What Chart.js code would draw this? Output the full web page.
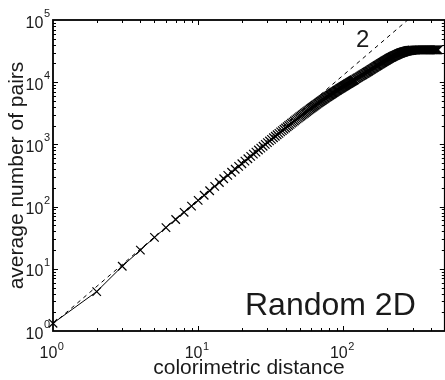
<!DOCTYPE html>
<html>
<head>
<meta charset="utf-8">
<script src="https://cdn.jsdelivr.net/npm/chart.js@4"></script>
<style>
  html, body { margin: 0; padding: 0; background: #fff; overflow: hidden; }
  #wrap { width: 452px; height: 380px; position: relative; }
</style>
</head>
<body>
<div id="wrap"><canvas id="chart"></canvas></div>
<script>
// Data
const distance = [
    1, 2, 3, 4, 5, 6, 7, 8, 9, 10, 11, 12, 13, 14, 15, 16, 17, 18, 19, 20,
    21, 22, 23, 24, 25, 26, 27, 28, 29, 30, 31, 32, 33, 34, 35, 36, 37, 38, 39, 40,
    41, 42, 43, 44, 45, 46, 47, 48, 49, 50, 51, 52, 53, 54, 55, 56, 57, 58, 59, 60,
    61, 62, 63, 64, 65, 66, 67, 68, 69, 70, 71, 72, 73, 74, 75, 76, 77, 78, 79, 80,
    81, 82, 83, 84, 85, 86, 87, 88, 89, 90, 91, 92, 93, 94, 95, 96, 97, 98, 99, 100,
    101, 102, 103, 104, 105, 106, 107, 108, 109, 110, 111, 112, 113, 114, 115, 116, 117, 118, 119, 120,
    122, 124, 126, 128, 130, 132, 134, 136, 138, 140, 142, 144, 146, 148, 150, 152, 154, 156, 158, 160,
    162, 164, 166, 168, 170, 172, 174, 176, 178, 180, 182, 184, 186, 188, 190, 192, 194, 196, 198, 200,
    202, 204, 206, 208, 210, 212, 214, 216, 218, 220, 222, 224, 226, 228, 230, 232, 234, 236, 238, 240,
    242, 244, 246, 248, 250, 252, 254, 256, 258, 260, 262, 264, 266, 268, 270, 272, 274, 276, 278, 280,
    282, 284, 286, 288, 290, 292, 294, 296, 298, 300,
    305, 310, 315, 320, 325, 330, 335, 340, 345, 350, 355, 360, 365, 370, 375,
    380, 385, 390, 395, 400, 405, 410, 415, 420, 425, 430, 435, 440, 445, 450
];
const avgPairs = [
    1.33, 4.3, 11, 20, 32, 46, 62, 81, 102, 126, 152, 180, 211, 244, 280, 317, 357, 399, 443, 489,
    538, 588, 641, 696, 753, 812, 872, 935, 1000, 1067, 1136, 1206, 1279, 1353, 1429, 1507, 1587, 1669, 1752, 1837,
    1924, 2011, 2101, 2192, 2285, 2378, 2473, 2570, 2667, 2765, 2865, 2965, 3067, 3170, 3274, 3380, 3487, 3595, 3703, 3813,
    3922, 4032, 4143, 4255, 4367, 4481, 4595, 4709, 4825, 4942, 5056, 5171, 5287, 5403, 5519, 5636, 5754, 5871, 5990, 6108,
    6227, 6346, 6465, 6585, 6705, 6825, 6945, 7066, 7186, 7307, 7428, 7548, 7670, 7791, 7912, 8033, 8154, 8274, 8396, 8517,
    8641, 8763, 8888, 9010, 9135, 9258, 9381, 9504, 9628, 9750, 9877, 10005, 10131, 10258, 10385, 10511, 10638, 10763, 10890, 11016,
    11288, 11560, 11832, 12103, 12374, 12645, 12915, 13193, 13470, 13747, 14023, 14298, 14577, 14855, 15137, 15448, 15758, 16069, 16380, 16691,
    17002, 17312, 17621, 17931, 18241, 18549, 18856, 19164, 19468, 19774, 20100, 20424, 20749, 21073, 21394, 21716, 22037, 22354, 22673, 22989,
    23302, 23615, 23926, 24233, 24541, 24828, 25111, 25393, 25671, 25946, 26219, 26488, 26754, 27018, 27277, 27533, 27784, 28033, 28278, 28520,
    28756, 28989, 29217, 29442, 29661, 29855, 30048, 30232, 30412, 30590, 30759, 30923, 31085, 31240, 31387, 31533, 31670, 31801, 31931, 32052,
    32145, 32230, 32300, 32370, 32440, 32510, 32580, 32640, 32700, 32750,
    32840, 32920, 32980, 33030, 33060, 33090, 33105, 33120, 33130, 33140, 33145, 33148, 33150, 33150, 33150,
    33150, 33150, 33150, 33150, 33150, 33150, 33150, 33150, 33150, 33150, 33150, 33150, 33150, 33150, 33150
];
// slope-2 guide line
const slopeX = [1, 280];
const slopeY = [1.3, 101920];

const xRange = [1, 500];
const yRange = [1, 100000];
const xTickExp = ['0', '1', '2'];
const yTickExp = ['0', '1', '2', '3', '4', '5'];

const FONT = '"Liberation Sans", Arial, Helvetica, sans-serif';
const INK = '#1a1a1a';

// Box, inward ticks, superscript labels and annotations (MATLAB look)
const matlabAxes = {
    id: 'matlabAxes',
    afterDatasetsDraw(chart) {
        const { ctx, chartArea: a, scales: { x, y } } = chart;
        ctx.save();

        // minor + major ticks, pointing inward on all sides
        ctx.strokeStyle = '#000';
        ctx.lineWidth = 1;
        ctx.beginPath();
        for (let k = 0; k < 3; k++) {
            for (let m = 1; m <= 9; m++) {
                const v = m * Math.pow(10, k);
                if (v <= xRange[0] || v >= xRange[1]) continue;
                const px = Math.round(x.getPixelForValue(v)) + 0.5;
                const len = m === 1 ? 5 : 3;
                ctx.moveTo(px, a.bottom); ctx.lineTo(px, a.bottom - len);
                ctx.moveTo(px, a.top); ctx.lineTo(px, a.top + len);
            }
        }
        for (let k = 0; k < 5; k++) {
            for (let m = 1; m <= 9; m++) {
                const v = m * Math.pow(10, k);
                if (v <= yRange[0] || v >= yRange[1]) continue;
                const py = Math.round(y.getPixelForValue(v)) + 0.5;
                const len = m === 1 ? 5 : 3;
                ctx.moveTo(a.left, py); ctx.lineTo(a.left + len, py);
                ctx.moveTo(a.right, py); ctx.lineTo(a.right - len, py);
            }
        }
        ctx.stroke();

        // box
        ctx.lineWidth = 1.8;
        ctx.strokeRect(a.left, a.top, a.right - a.left, a.bottom - a.top);

        ctx.fillStyle = INK;

        // x tick labels 10^k
        xTickExp.forEach(e => {
            const px = x.getPixelForValue(Math.pow(10, +e));
            ctx.font = '16px ' + FONT;
            const wBase = ctx.measureText('10').width;
            ctx.font = '11px ' + FONT;
            const wExp = ctx.measureText(e).width;
            const left = px - 1.5 - (wBase + wExp) / 2;
            ctx.textAlign = 'left';
            ctx.textBaseline = 'alphabetic';
            ctx.font = '16px ' + FONT;
            ctx.fillText('10', left, a.bottom + 27);
            ctx.font = '11px ' + FONT;
            ctx.fillText(e, left + wBase + 0.5, a.bottom + 19);
        });

        // y tick labels 10^k
        yTickExp.forEach(e => {
            const py = y.getPixelForValue(Math.pow(10, +e));
            ctx.font = '11px ' + FONT;
            const wExp = ctx.measureText(e).width;
            const right = a.left - 3;
            ctx.textAlign = 'left';
            ctx.textBaseline = 'alphabetic';
            ctx.fillText(e, right - wExp, py - 3);
            ctx.font = '16px ' + FONT;
            ctx.textAlign = 'right';
            ctx.fillText('10', right - wExp - 0.5, py + 7.5);
        });

        // axis titles
        ctx.font = '21px ' + FONT;
        ctx.textAlign = 'center';
        ctx.textBaseline = 'alphabetic';
        ctx.fillText('colorimetric distance', (a.left + a.right) / 2, a.bottom + 43);

        ctx.save();
        ctx.translate(23, (a.top + a.bottom) / 2);
        ctx.rotate(-Math.PI / 2);
        ctx.fillText('average number of pairs', 0, 0);
        ctx.restore();

        // annotations
        ctx.textAlign = 'left';
        ctx.font = '32px ' + FONT;
        ctx.fillText('Random 2D', a.left + 192, a.bottom - 16);
        ctx.font = '24px ' + FONT;
        ctx.fillText('2', a.left + 303, a.top + 26.5);

        ctx.restore();
    }
};

const ctx = document.getElementById('chart').getContext('2d');
new Chart(ctx, {
    type: 'scatter',
    data: {
        datasets: [
            {
                label: 'pairs',
                data: distance.map((d, i) => ({ x: d, y: avgPairs[i] })),
                showLine: true,
                borderColor: '#000',
                borderWidth: 1,
                pointStyle: 'crossRot',
                pointRadius: 6,
                pointBorderWidth: 1.2,
                pointBorderColor: '#000',
                pointBackgroundColor: '#000',
                tension: 0,
                clip: false,
                order: 1
            },
            {
                label: 'slope 2',
                data: slopeX.map((d, i) => ({ x: d, y: slopeY[i] })),
                showLine: true,
                borderColor: '#000',
                borderWidth: 1,
                borderDash: [4, 4],
                pointRadius: 0,
                order: 2
            }
        ]
    },
    options: {
        responsive: true,
        maintainAspectRatio: false,
        animation: false,
        layout: { padding: { top: 20, right: 5, left: 0, bottom: 0 } },
        plugins: { legend: { display: false }, tooltip: { enabled: false } },
        scales: {
            x: {
                type: 'logarithmic',
                min: xRange[0],
                max: xRange[1],
                grid: { display: false },
                border: { display: false },
                ticks: { display: false },
                afterFit: (scale) => { scale.height = 49; }
            },
            y: {
                type: 'logarithmic',
                min: yRange[0],
                max: yRange[1],
                grid: { display: false },
                border: { display: false },
                ticks: { display: false },
                afterFit: (scale) => { scale.width = 53; }
            }
        }
    },
    plugins: [matlabAxes]
});
</script>
</body>
</html>
